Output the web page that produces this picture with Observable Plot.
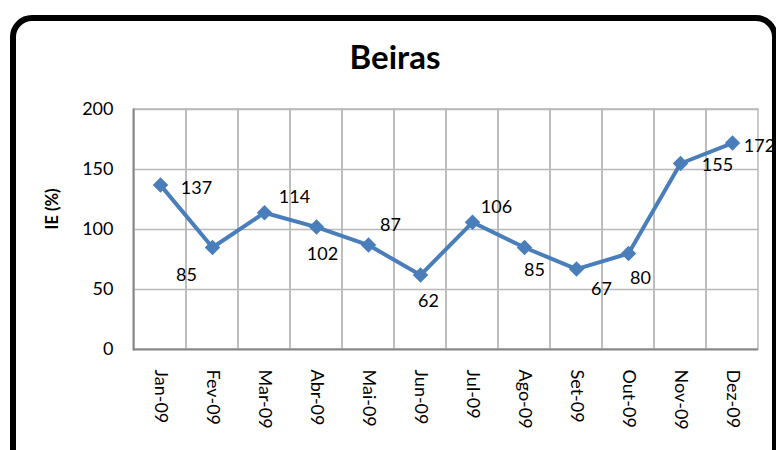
<!DOCTYPE html>
<html>
<head>
<meta charset="utf-8">
<script src="https://cdn.jsdelivr.net/npm/d3@7"></script>
<script src="https://cdn.jsdelivr.net/npm/@observablehq/plot@0.6"></script>
<style>
  html, body { margin: 0; padding: 0; background: white; }
  #wrap { position: relative; width: 776px; height: 450px; overflow: hidden; font-family: Lato, sans-serif; }
  #frame { position: absolute; left: 10px; top: 15px; width: 756px; height: 460px; border: 6px solid black; border-radius: 22px; pointer-events: none; }
  #title { position: absolute; left: 0; width: 790px; top: 36px; text-align: center; font: bold 33px Lato, sans-serif; color: black; }
  #chart { position: absolute; left: 0; top: 0; }
</style>
</head>
<body>
<div id="wrap">
  <div id="chart"></div>
  <div id="frame"></div>
  <div id="title">Beiras</div>
</div>
<script>
const months = ["Jan-09","Fev-09","Mar-09","Abr-09","Mai-09","Jun-09","Jul-09","Ago-09","Set-09","Out-09","Nov-09","Dez-09"];
const values = [137, 85, 114, 102, 87, 62, 106, 85, 67, 80, 155, 172];
const yTicks = [0, 50, 100, 150, 200];
// label offsets (style only), in pixels relative to each point
const labelDx = [36, -26, 30, 6, 22, 8, 24, 10, 25, 12, 37, 27];
const labelDy = [3, 28, -15, 27, -20, 26, -15, 23, 20, 25, 2, 3];

const data = months.map((m, i) => ({month: m, value: values[i]}));

const labelMarks = data.map((d, i) =>
  Plot.text([d], {x: "month", y: "value", text: d => String(d.value), dx: labelDx[i], dy: labelDy[i], fill: "black", fontSize: 18})
);

const chart = Plot.plot({
  width: 776,
  height: 450,
  marginLeft: 133,
  marginRight: 18,
  marginTop: 109,
  marginBottom: 101,
  style: {fontFamily: "Lato, sans-serif", fontSize: "18px", background: "transparent", color: "black"},
  x: {type: "band", domain: months, padding: 0},
  y: {domain: [0, 200]},
  marks: [
    Plot.ruleY(yTicks.filter(v => v > 0), {stroke: "#b9b9b9", strokeWidth: 1.5}),
    Plot.barY(months, {x: d => d, y1: 0, y2: 200, fill: "none", stroke: "#b9b9b9", strokeWidth: 1.5, inset: 0}),
    Plot.ruleY([0], {stroke: "#878787", strokeWidth: 2}),
    Plot.frame({anchor: "left", stroke: "#878787", strokeWidth: 2}),
    Plot.axisY({ticks: yTicks, tickSize: 0, tickPadding: 20, label: null, fontSize: 18}),
    Plot.axisX({tickRotate: 90, tickSize: 0, tickPadding: 20, label: null, fontSize: 18}),
    Plot.text(["IE (%)"], {frameAnchor: "left", rotate: -90, dx: -81, fontWeight: "bold", fontSize: 16.5, fill: "black"}),
    Plot.line(data, {x: "month", y: "value", stroke: "#4a7ebb", strokeWidth: 4}),
    Plot.dot(data, {x: "month", y: "value", symbol: "square", rotate: 45, r: 6.2, fill: "#4a7ebb", stroke: "none"}),
    ...labelMarks
  ]
});
document.getElementById("chart").appendChild(chart);
</script>
</body>
</html>
